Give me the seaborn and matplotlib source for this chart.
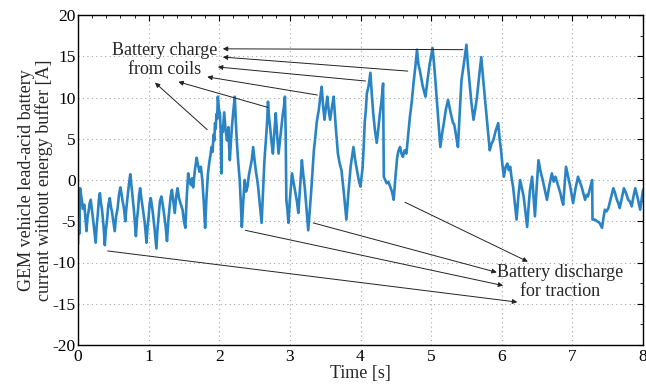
import matplotlib
matplotlib.use("Agg")
import matplotlib.pyplot as plt
from matplotlib.ticker import MultipleLocator
import pandas as pd
import seaborn as sns

# Battery current trace: time [s] and current [A]
time_s = [
    0.00, 0.01, 0.02, 0.03, 0.05, 0.07, 0.09, 0.12, 0.135, 0.15,
    0.165, 0.18, 0.195, 0.21, 0.23, 0.25, 0.265, 0.28, 0.295, 0.31,
    0.325, 0.34, 0.36, 0.38, 0.395, 0.41, 0.43, 0.45, 0.465, 0.48,
    0.50, 0.52, 0.54, 0.56, 0.58, 0.60, 0.615, 0.63, 0.65, 0.67,
    0.685, 0.70, 0.72, 0.74, 0.755, 0.77, 0.795, 0.82, 0.835, 0.85,
    0.865, 0.88, 0.90, 0.92, 0.945, 0.97, 0.985, 1.00, 1.015, 1.03,
    1.045, 1.06, 1.085, 1.11, 1.125, 1.14, 1.16, 1.18, 1.20, 1.22,
    1.24, 1.26, 1.28, 1.30, 1.315, 1.33, 1.35, 1.37, 1.39, 1.41,
    1.43, 1.45, 1.48, 1.50, 1.52, 1.54, 1.56, 1.58, 1.60, 1.615,
    1.63, 1.655, 1.68, 1.70, 1.72, 1.74, 1.76, 1.78, 1.80, 1.82,
    1.84, 1.86, 1.875, 1.89, 1.905, 1.92, 1.93, 1.94, 1.95, 1.96,
    1.97, 1.98, 1.995, 2.01, 2.02, 2.03, 2.035, 2.05, 2.07, 2.09,
    2.11, 2.12, 2.13, 2.14, 2.15, 2.165, 2.18, 2.20, 2.22, 2.235,
    2.25, 2.27, 2.29, 2.305, 2.32, 2.34, 2.36, 2.38, 2.40, 2.42,
    2.44, 2.46, 2.48, 2.50, 2.52, 2.535, 2.55, 2.575, 2.60, 2.62,
    2.64, 2.655, 2.67, 2.68, 2.69, 2.705, 2.72, 2.74, 2.76, 2.78,
    2.80, 2.82, 2.84, 2.87, 2.90, 2.915, 2.93, 2.94, 2.95, 2.965,
    2.98, 3.00, 3.03, 3.055, 3.08, 3.10, 3.12, 3.145, 3.17, 3.19,
    3.21, 3.235, 3.26, 3.28, 3.30, 3.32, 3.34, 3.36, 3.38, 3.395,
    3.41, 3.43, 3.45, 3.47, 3.49, 3.51, 3.53, 3.55, 3.57, 3.595,
    3.62, 3.65, 3.68, 3.705, 3.73, 3.765, 3.80, 3.83, 3.86, 3.88,
    3.90, 3.925, 3.95, 3.975, 4.00, 4.015, 4.03, 4.045, 4.06, 4.075,
    4.09, 4.115, 4.14, 4.16, 4.18, 4.205, 4.23, 4.25, 4.27, 4.295,
    4.32, 4.33, 4.35, 4.37, 4.395, 4.42, 4.445, 4.47, 4.495, 4.52,
    4.54, 4.56, 4.58, 4.60, 4.625, 4.65, 4.675, 4.70, 4.725, 4.75,
    4.775, 4.80, 4.82, 4.84, 4.88, 4.92, 4.95, 4.98, 5.00, 5.02,
    5.04, 5.06, 5.095, 5.13, 5.155, 5.18, 5.21, 5.24, 5.275, 5.31,
    5.325, 5.34, 5.36, 5.38, 5.405, 5.43, 5.465, 5.50, 5.52, 5.54,
    5.57, 5.60, 5.625, 5.65, 5.68, 5.71, 5.735, 5.76, 5.795, 5.83,
    5.855, 5.88, 5.915, 5.95, 5.97, 5.99, 6.01, 6.03, 6.055, 6.08,
    6.10, 6.12, 6.14, 6.16, 6.185, 6.21, 6.235, 6.26, 6.285, 6.31,
    6.335, 6.36, 6.38, 6.40, 6.415, 6.43, 6.45, 6.47, 6.495, 6.52,
    6.55, 6.58, 6.61, 6.64, 6.675, 6.71, 6.735, 6.76, 6.795, 6.83,
    6.85, 6.87, 6.89, 6.91, 6.94, 6.97, 6.99, 7.01, 7.045, 7.08,
    7.105, 7.13, 7.155, 7.18, 7.20, 7.22, 7.25, 7.28, 7.285, 7.32,
    7.35, 7.385, 7.42, 7.44, 7.46, 7.485, 7.51, 7.545, 7.58, 7.605,
    7.63, 7.65, 7.67, 7.70, 7.73, 7.76, 7.79, 7.815, 7.84, 7.865,
    7.89, 7.925, 7.96, 7.98, 8.00,
]
current_a = [
    -7.8, -4.0, -6.5, -1.0, -2.2, -3.5, -3.0, -6.2, -4.5, -3.8,
    -2.8, -2.4, -3.4, -4.5, -6.0, -7.6, -5.5, -4.2, -2.4, -1.6,
    -2.8, -3.6, -5.4, -7.9, -6.0, -5.0, -3.0, -2.2, -3.2, -3.8,
    -5.0, -6.2, -4.4, -3.5, -1.8, -0.9, -1.6, -2.5, -3.4, -5.0,
    -3.4, -2.2, -0.6, 0.7, -0.5, -1.8, -4.0, -6.8, -4.8, -3.6,
    -1.8, -1.0, -2.4, -3.6, -5.2, -7.6, -5.6, -4.5, -2.8, -2.2,
    -3.0, -4.0, -6.0, -8.3, -6.0, -4.6, -2.6, -2.0, -3.0, -4.2,
    -5.6, -7.4, -4.8, -3.0, -1.8, -1.2, -2.6, -4.0, -2.0, -1.0,
    -2.2, -2.8, -3.6, -5.0, -5.8, -2.0, 0.8, -0.2, -0.6, 0.2,
    -0.9, 1.2, 2.7, 1.8, 1.0, 1.6, 0.0, -2.6, -5.8, -2.0,
    0.8, 2.2, 3.0, 4.0, 3.4, 5.5, 4.8, 6.9, 6.2, 8.0,
    7.4, 10.1, 8.6, 8.0, 6.0, 0.8, 6.5, 5.8, 8.2, 6.0,
    4.8, 5.6, 6.4, 4.0, 2.4, 4.6, 6.5, 8.4, 10.1, 7.0,
    4.5, 2.0, 0.0, -3.0, -5.7, -2.6, 0.0, -1.4, -0.8, 0.6,
    1.5, 2.4, 4.0, 2.4, 1.0, 0.2, -0.8, -3.0, -5.2, -1.4,
    2.4, 4.2, 6.0, 7.4, 9.5, 7.6, 6.4, 4.6, 3.2, 5.8,
    8.1, 5.4, 3.2, 5.6, 8.0, 8.8, 10.1, 6.0, -2.4, -3.6,
    -5.2, -2.4, 0.8, -0.4, -1.6, -2.6, -4.0, -0.8, 2.4, 0.6,
    -0.8, -3.4, -6.1, -3.8, -1.6, 1.0, 3.6, 5.2, 7.0, 7.8,
    8.5, 10.0, 11.3, 9.0, 7.3, 8.8, 10.1, 8.4, 7.3, 8.8,
    10.1, 6.4, 3.2, 2.0, 1.2, -1.6, -4.8, -1.4, 1.6, 2.8,
    4.0, 2.4, 1.2, 0.0, -0.8, 0.4, 1.5, 4.0, 7.0, 8.4,
    10.5, 11.4, 13.0, 10.4, 8.1, 6.0, 4.5, 6.0, 7.7, 9.4,
    11.7, 0.4, 0.0, -0.4, -0.2, -0.8, -1.4, -2.4, 0.4, 2.8,
    3.6, 4.0, 3.2, 2.8, 3.6, 3.2, 5.4, 7.7, 9.4, 11.7,
    13.6, 15.8, 14.0, 13.3, 11.4, 10.1, 12.2, 14.1, 15.0, 16.0,
    14.2, 12.1, 8.0, 4.0, 5.6, 6.9, 8.6, 9.7, 8.2, 6.9,
    6.8, 6.1, 5.0, 4.0, 8.2, 12.1, 14.2, 16.4, 14.0, 12.1,
    9.4, 7.3, 8.6, 10.1, 12.6, 14.9, 12.4, 10.1, 6.8, 3.6,
    4.4, 4.8, 6.0, 6.9, 5.0, 3.6, 1.8, 0.4, 1.6, 2.0,
    1.2, 1.6, 0.2, -0.8, -2.8, -4.8, -2.0, 0.0, -1.0, -2.0,
    -3.8, -5.7, -3.2, -1.2, -0.4, 0.4, -2.0, -4.4, -0.8, 2.4,
    1.0, 0.0, -1.2, -2.4, -0.6, 0.8, -0.2, 0.4, -0.6, -1.6,
    -2.4, -3.0, -0.6, 1.6, 0.4, -0.8, -1.8, -2.8, -1.0, 0.4,
    -0.2, -0.8, -1.6, -2.4, -1.8, -2.0, -1.0, 0.0, -4.8, -4.8,
    -5.0, -5.2, -5.8, -4.6, -3.6, -3.8, -3.4, -2.2, -1.0, -1.6,
    -2.4, -2.8, -3.4, -2.2, -1.0, -1.6, -2.4, -2.6, -3.2, -2.0,
    -1.0, -2.2, -3.6, -2.4, -1.2,
]

# Annotation arrows: tail on the trace -> head at the label, in data units
charge_tails = [(5.45, 15.8), (4.67, 13.2), (4.07, 12.0), (3.39, 10.3), (2.69, 8.8), (1.83, 6.1)]
charge_heads = [(2.05, 15.9), (2.05, 14.9), (1.98, 13.7), (1.83, 12.5), (1.42, 11.9), (1.09, 11.8)]
discharge_tails = [(4.63, -2.7), (3.33, -5.2), (2.37, -6.1), (0.42, -8.6)]
discharge_heads = [(6.37, -9.9), (5.93, -11.2), (6.02, -12.8), (6.22, -14.8)]

sns.set_theme(style="white")
plt.rcParams["font.family"] = ["Liberation Serif", "DejaVu Serif"]
plt.rcParams["axes.unicode_minus"] = False

fig = plt.figure(figsize=(6.46, 3.85), dpi=100)
ax = fig.add_axes([78 / 646, 40 / 385, 565 / 646, 330 / 385])

df = pd.DataFrame({"t": time_s, "i": current_a})
sns.lineplot(data=df, x="t", y="i", ax=ax, color="#2a84c4", linewidth=1.9,
             estimator=None, sort=False)

ax.set_xlim(0, 8)
ax.set_ylim(-20, 20)
ax.xaxis.set_major_locator(MultipleLocator(1))
ax.xaxis.set_minor_locator(MultipleLocator(0.2))
ax.yaxis.set_major_locator(MultipleLocator(5))
ax.yaxis.set_minor_locator(MultipleLocator(2.5))
ax.tick_params(which="both", direction="in", top=True, right=True, colors="black",
               labelsize=12.5)
ax.tick_params(axis="y", pad=1.5)
ax.tick_params(axis="x", pad=3)
ax.tick_params(which="major", length=4, width=0.8)
ax.tick_params(which="minor", length=2.5, width=0.6)
ax.grid(which="major", linestyle=(0, (1, 3)), color="#a8a8a8", linewidth=0.8)
for sp in ax.spines.values():
    sp.set_color("black")
    sp.set_linewidth(1.0)

ax.set_xlabel("Time [s]", fontsize=13, labelpad=0)
ax.set_ylabel("GEM vehicle lead-acid battery\ncurrent without energy buffer [A]",
              fontsize=13, labelpad=0, linespacing=1.0)

arrow_kw = dict(arrowstyle="-|>", color="#222222", lw=0.7, mutation_scale=7,
                shrinkA=0, shrinkB=0)
for tail, head in zip(charge_tails, charge_heads):
    ax.annotate("", xy=head, xytext=tail, arrowprops=arrow_kw)
for tail, head in zip(discharge_tails, discharge_heads):
    ax.annotate("", xy=head, xytext=tail, arrowprops=arrow_kw)

ax.text(1.23, 14.5, "Battery charge\nfrom coils", ha="center", va="center",
        fontsize=13, linespacing=1.15)
ax.text(6.83, -12.4, "Battery discharge\nfor traction", ha="center", va="center",
        fontsize=13, linespacing=1.15)

fig.savefig("out.png", dpi=100, facecolor="white")
